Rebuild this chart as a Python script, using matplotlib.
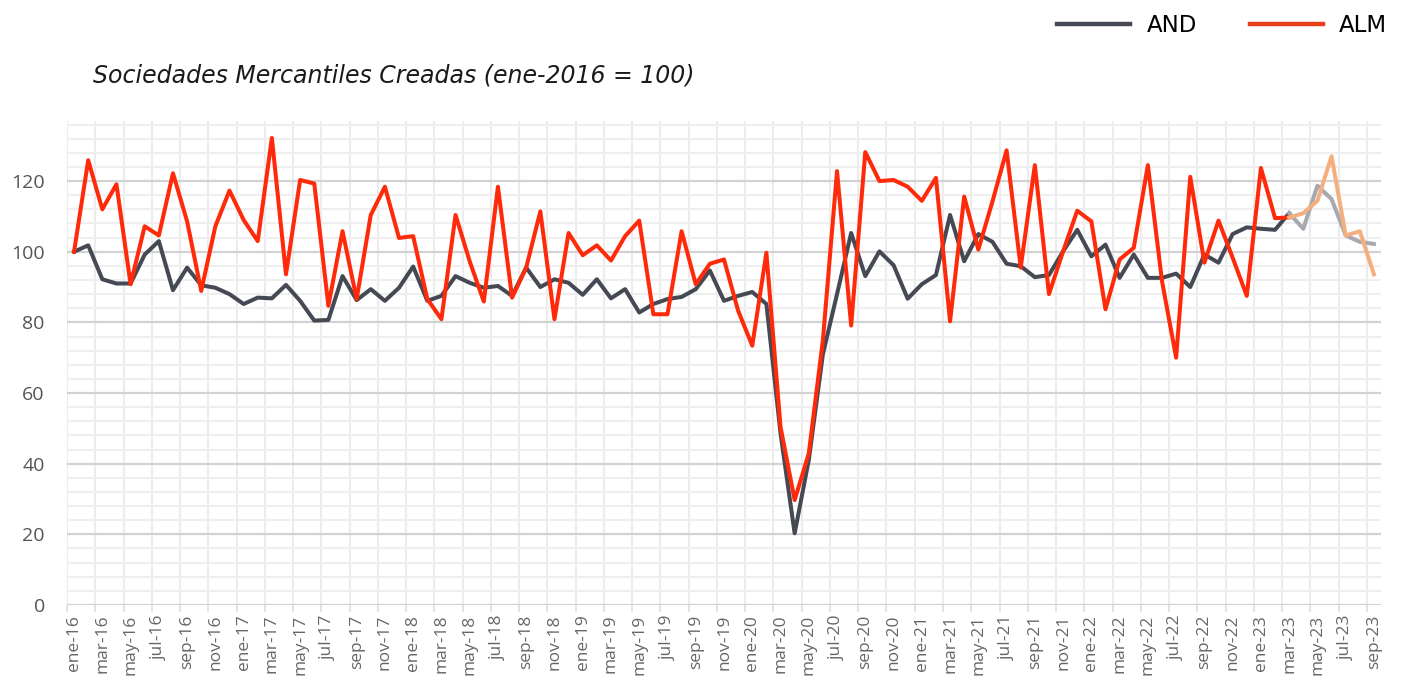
import matplotlib
matplotlib.use("Agg")
import matplotlib.pyplot as plt
from matplotlib.ticker import MultipleLocator, FixedLocator
import numpy as np

plt.rcParams["font.family"] = ["Open Sans", "DejaVu Sans"]

# months ene-16 .. sep-23
meses = ["ene", "feb", "mar", "abr", "may", "jun", "jul", "ago", "sep", "oct", "nov", "dic"]
labels = [f"{m}-{y}" for y in range(16, 24) for m in meses][:93]

# indice ene-2016 = 100
alm = [100, 125.9, 112.0, 119.1, 90.8, 107.2, 104.6, 122.2, 108.6, 88.9, 107.2, 117.3,
       109.0, 103.0, 132.2, 93.6, 120.3, 119.3, 84.7, 105.8, 86.6, 110.4, 118.4, 103.9,
       104.4, 86.6, 80.9, 110.4, 97.3, 85.9, 118.4, 87.0, 95.5, 111.4, 80.9, 105.3,
       99.0, 101.8, 97.5, 104.4, 108.8, 82.3, 82.3, 105.8, 90.8, 96.6, 97.8, 83.3,
       73.4, 99.7, 50.4, 29.7, 42.9, 75.0, 122.8, 79.1, 128.2, 120.0, 120.3, 118.4,
       114.4, 120.9, 80.3, 115.6, 100.6, 114.2, 128.7, 95.5, 124.5, 88.0, 100.1, 111.6,
       108.6, 83.7, 97.8, 101.1, 124.5, 91.7, 70.0, 121.2, 96.9, 108.8, 98.3, 87.5,
       123.7, 109.5, 109.7, 110.9, 114.4, 127.0, 104.6, 105.8, 93.6]

and_ = [100, 101.8, 92.2, 91.0, 91.0, 99.2, 103.0, 89.1, 95.5, 90.5, 89.8, 88.0,
        85.2, 87.0, 86.8, 90.6, 86.1, 80.5, 80.7, 93.1, 86.3, 89.4, 86.1, 89.8,
        95.8, 86.1, 87.5, 93.1, 91.2, 89.8, 90.3, 87.5, 95.5, 90.0, 92.2, 91.2,
        87.8, 92.2, 86.8, 89.4, 82.8, 85.2, 86.6, 87.2, 89.4, 94.7, 86.1, 87.5,
        88.6, 85.2, 48.6, 20.3, 41.0, 71.0, 88.0, 105.3, 93.1, 100.1, 96.2, 86.7,
        90.8, 93.4, 110.4, 97.3, 105.0, 102.8, 96.6, 95.9, 92.8, 93.4, 100.1, 106.2,
        98.7, 102.0, 92.6, 99.2, 92.6, 92.6, 93.8, 90.0, 99.2, 96.9, 105.0, 106.9,
        106.5, 106.2, 110.9, 106.5, 118.7, 114.9, 104.6, 102.8, 102.2]

corte = 86  # desde mar-23 datos provisionales (color claro)

C_AND = "#454954"
C_ALM = "#ff2a0a"
C_AND_L = "#a7a9ae"
C_ALM_L = "#f5ae80"

x = np.arange(len(labels))

fig = plt.figure(figsize=(14.02, 6.84), dpi=100)
ax = fig.add_axes([67 / 1402, 1 - 605 / 684, (1381 - 67) / 1402, (605 - 121) / 684])

ax.plot(x[:corte + 1], and_[:corte + 1], color=C_AND, lw=2.9, zorder=3)
ax.plot(x[corte:], and_[corte:], color=C_AND_L, lw=2.9, zorder=3)
ax.plot(x[:corte + 1], alm[:corte + 1], color=C_ALM, lw=2.9, zorder=4)
ax.plot(x[corte:], alm[corte:], color=C_ALM_L, lw=2.9, zorder=4)

ax.set_xlim(-0.5, len(labels) - 0.5)
ax.set_ylim(0, 137)

ax.set_xticks(x[::2])
ax.set_xticklabels(labels[::2], rotation=90)
ax.xaxis.set_minor_locator(FixedLocator(np.arange(-0.5, len(labels), 2)))
ax.tick_params(axis="x", which="major", length=0, pad=7, labelsize=12.5, labelcolor="#666666")
ax.tick_params(axis="x", which="minor", length=5, color="#dddddd", width=1.2)

ax.yaxis.set_major_locator(MultipleLocator(20))
ax.yaxis.set_minor_locator(MultipleLocator(4))
ax.tick_params(axis="y", which="both", length=0, pad=16, labelsize=14, labelcolor="#555555")

ax.grid(axis="y", which="major", color="#d2d2d2", lw=1.6, zorder=1)
ax.grid(axis="y", which="minor", color="#efefef", lw=1.5, zorder=0)
ax.grid(axis="x", which="minor", color="#ececec", lw=1.5, zorder=0)
ax.grid(axis="x", which="major", visible=False)

for s in ax.spines.values():
    s.set_visible(False)
ax.axhline(0, color="#d6d6d6", lw=1.8, zorder=1)

fig.text(93 / 1402, 1 - 75 / 684, "Sociedades Mercantiles Creadas (ene-2016 = 100)",
         fontsize=17, style="italic", color="#1a1a1a", family="DejaVu Sans", va="center")

h1, = ax.plot([], [], color=C_AND, lw=3.2, label="AND")
h2, = ax.plot([], [], color="#e8401c", lw=3.2, label="ALM")
fig.legend(handles=[h1, h2], loc="center right", bbox_to_anchor=(1387 / 1402, 1 - 26 / 684),
           ncol=2, frameon=False, handlelength=3.2, handletextpad=0.7,
           columnspacing=2.3, borderpad=0, borderaxespad=0,
           prop={"family": "DejaVu Sans", "size": 16.5})

fig.savefig("out.png", dpi=100)
